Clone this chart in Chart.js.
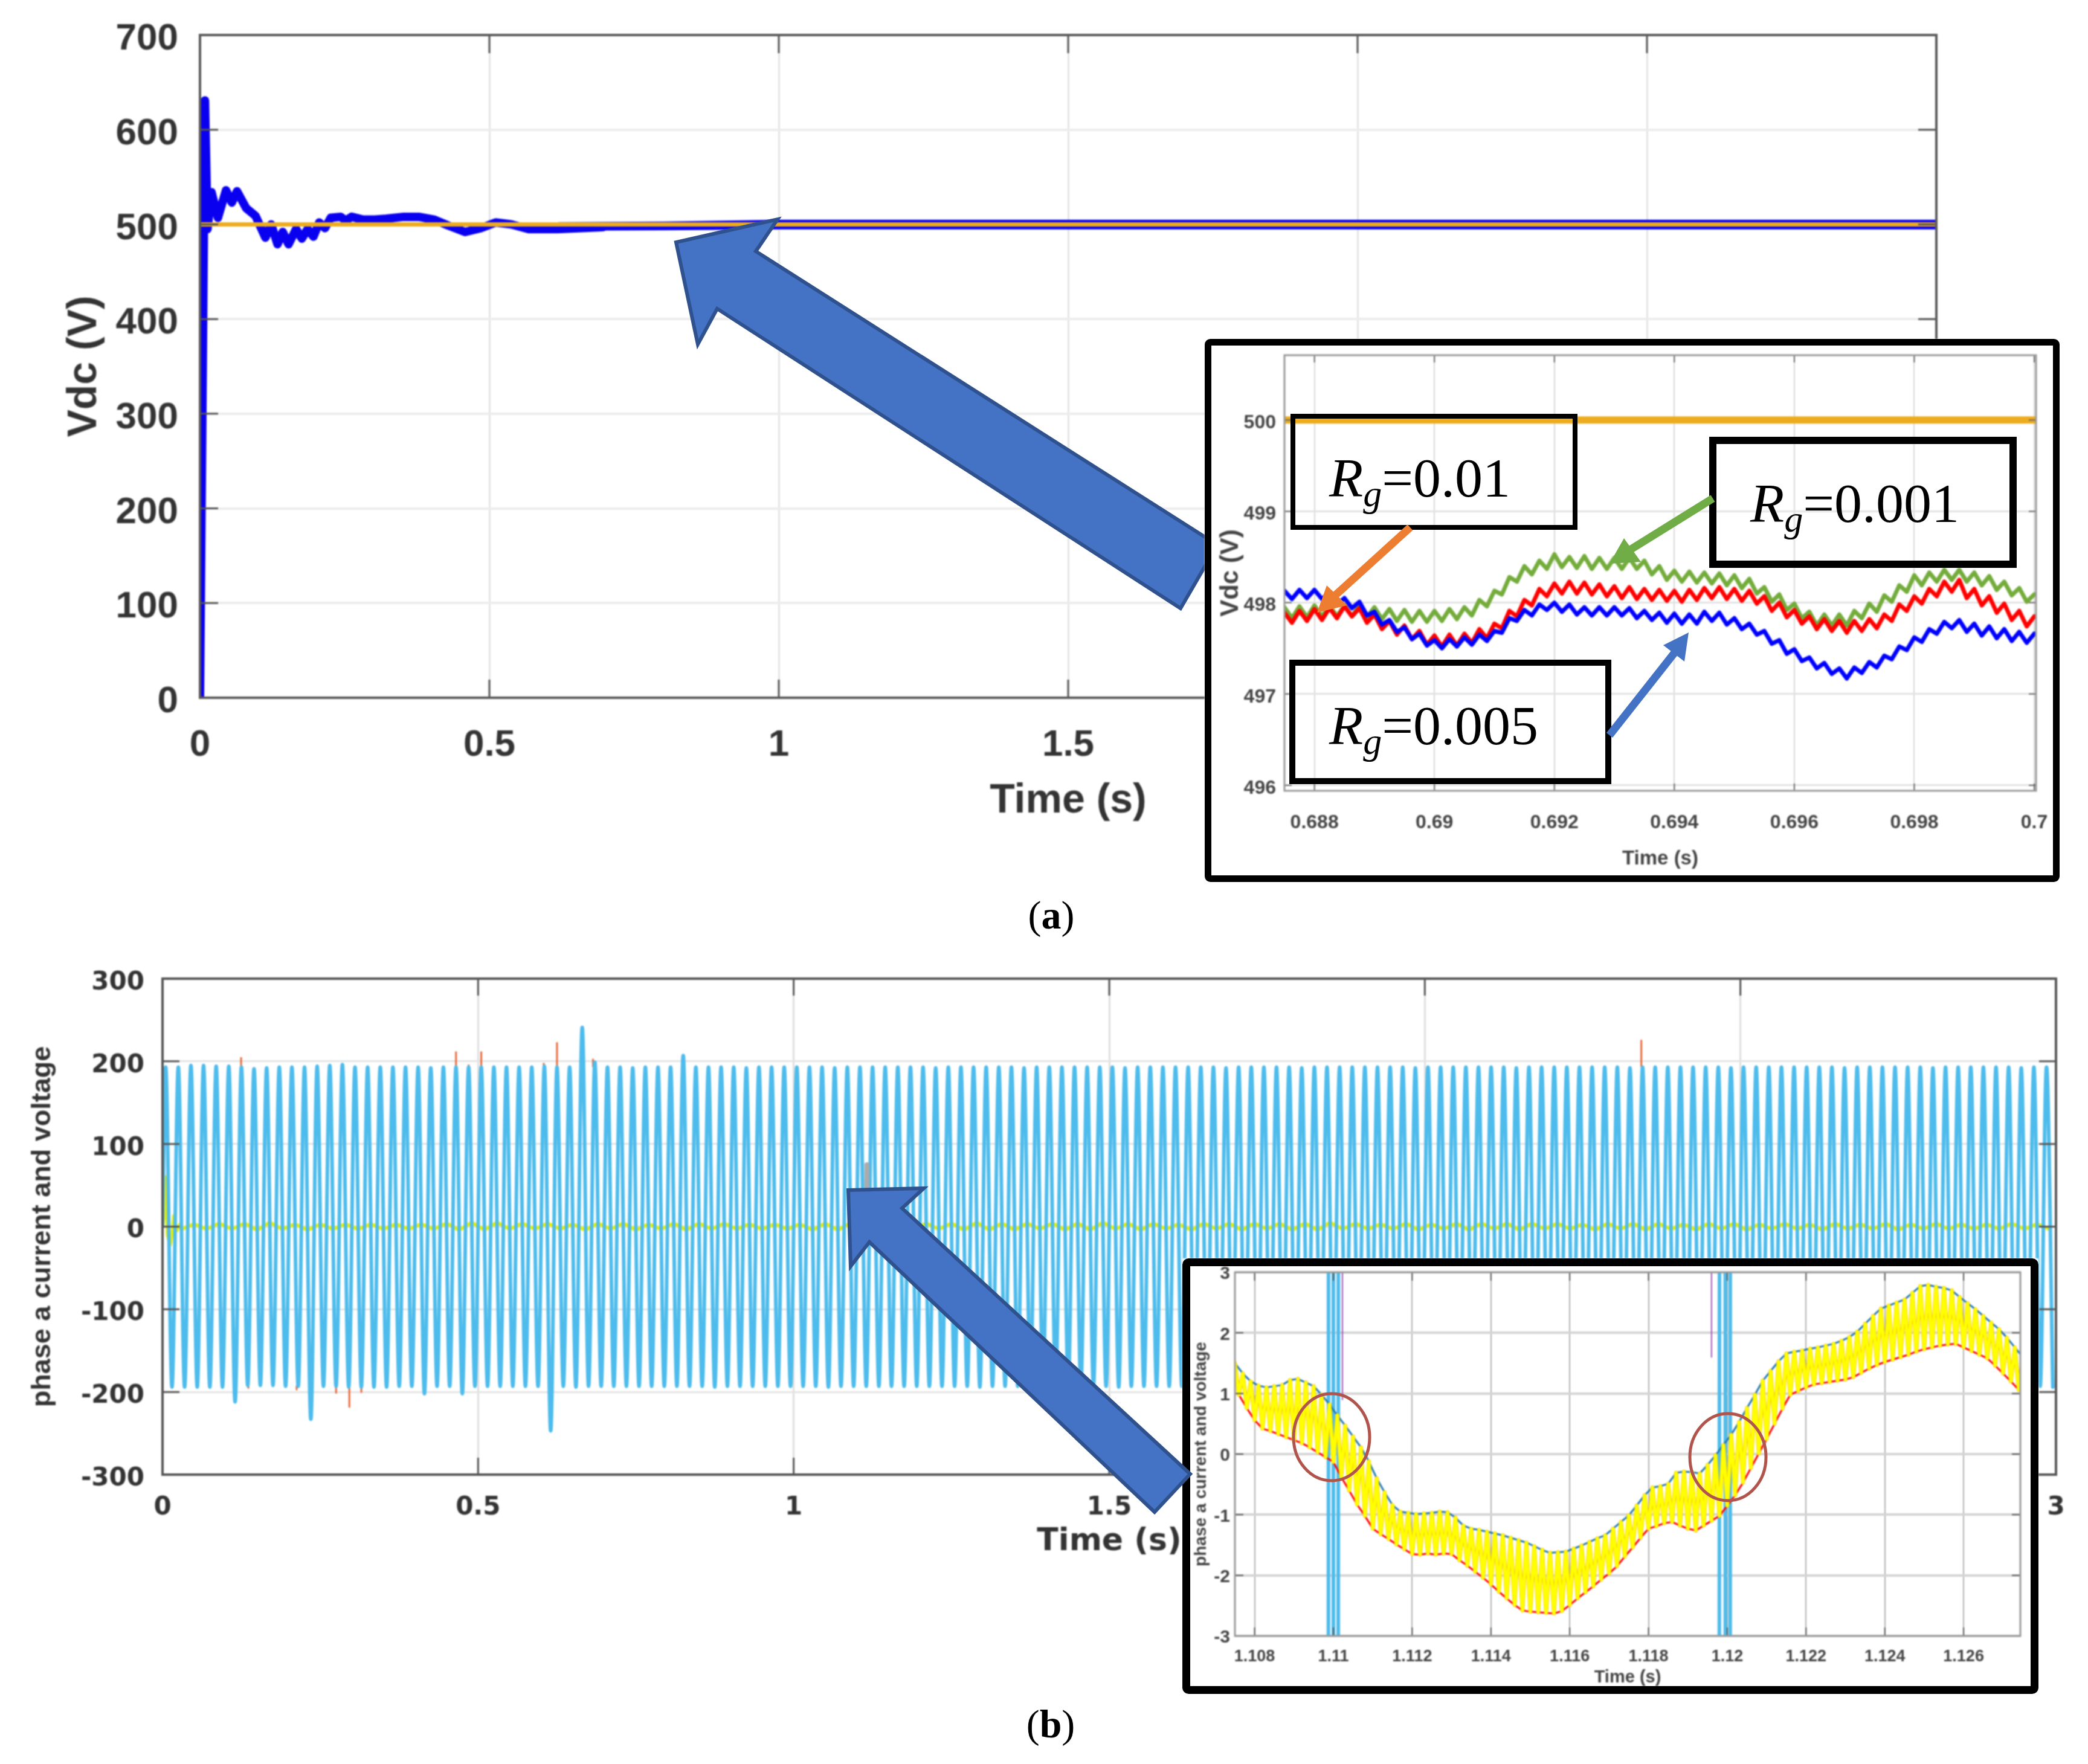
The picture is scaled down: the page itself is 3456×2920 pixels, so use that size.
<!DOCTYPE html>
<html>
<head>
<meta charset="utf-8">
<title>Vdc and phase a current and voltage</title>
<script src="https://cdn.jsdelivr.net/npm/chart.js@4"></script>
<style>
    html, body { margin: 0; padding: 0; background: #fff; }
    #page { position: relative; width: 3456px; height: 2920px; overflow: hidden; background: #fff; }
    canvas { position: absolute; display: block; filter: blur(1px); }
    canvas.inset { background: #fff; filter: blur(1.2px); }
    svg { position: absolute; left: 0; top: 0; }
    .rg { font-family: "Liberation Serif", serif; font-size: 92px; fill: #000; }
    .cap { font-family: "Liberation Serif", serif; font-size: 66px; fill: #000; }
</style>
</head>
<body>
<div id="page">
    <canvas id="chartVdc"></canvas>
    <canvas id="chartPhase"></canvas>
    <svg id="underInsets" width="3456" height="2920">
        <polygon points="1287,363 1251,416 2015,902 1954,1007 1187,511 1155,570 1119,401" fill="#4472C4" stroke="#2F528F" stroke-width="6"/>
    </svg>
    <canvas id="chartVdcZoom" class="inset"></canvas>
    <canvas id="chartPhaseZoom" class="inset"></canvas>
    <svg id="overInsets" width="3456" height="2920">
        <rect x="1999.5" y="566.5" width="1404" height="888" rx="4" fill="none" stroke="#000" stroke-width="11"/>
        <rect x="1963.5" y="2089.5" width="1404" height="708" rx="4" fill="none" stroke="#000" stroke-width="13"/>

        <rect x="2140" y="689" width="467" height="184" fill="none" stroke="#000" stroke-width="8"/>
        <rect x="2835" y="729" width="497" height="205" fill="none" stroke="#000" stroke-width="12"/>
        <rect x="2139" y="1097" width="523" height="196" fill="none" stroke="#000" stroke-width="10"/>

        <text class="rg" x="2200" y="822"><tspan font-style="italic">R</tspan><tspan font-style="italic" font-size="62" dy="16">g</tspan><tspan dy="-16">=0.01</tspan></text>
        <text class="rg" x="2897" y="864"><tspan font-style="italic">R</tspan><tspan font-style="italic" font-size="62" dy="16">g</tspan><tspan dy="-16">=0.001</tspan></text>
        <text class="rg" x="2200" y="1232"><tspan font-style="italic">R</tspan><tspan font-style="italic" font-size="62" dy="16">g</tspan><tspan dy="-16">=0.005</tspan></text>

        <line x1="2334" y1="873" x2="2205" y2="990" stroke="#ED7D31" stroke-width="13"/>
        <polygon points="2180,1014 2196,969 2230,1002" fill="#ED7D31"/>
        <line x1="2835" y1="825" x2="2695" y2="912" stroke="#70AD47" stroke-width="13"/>
        <polygon points="2664,933 2688,891 2716,930" fill="#70AD47"/>
        <line x1="2664" y1="1217" x2="2772" y2="1080" stroke="#4472C4" stroke-width="13"/>
        <polygon points="2795,1047 2753,1068 2788,1095" fill="#4472C4"/>

        <ellipse cx="2204" cy="2379" rx="63" ry="72" fill="none" stroke="#B0544C" stroke-width="5"/>
        <ellipse cx="2860" cy="2412" rx="63" ry="72" fill="none" stroke="#B0544C" stroke-width="5"/>

        <polygon points="1404,1970 1529,1967 1493,2000 1970,2440 1911,2503 1439,2056 1408,2096" fill="#4472C4" stroke="#2F528F" stroke-width="6"/>

        <text class="cap" x="1740" y="1537" text-anchor="middle">(<tspan font-weight="bold">a</tspan>)</text>
        <text class="cap" x="1739" y="2876" text-anchor="middle">(<tspan font-weight="bold">b</tspan>)</text>
    </svg>
</div>
<script>
    // (a) full Vdc run
    const vdcYTicks = [0, 100, 200, 300, 400, 500, 600, 700];
    const vdcXTicks = [0, 0.5, 1, 1.5, 2, 2.5, 3];
    const vdcTimes = [0, 0.0086, 0.013, 0.02, 0.031, 0.045, 0.055, 0.064, 0.08, 0.096, 0.113, 0.123, 0.134, 0.143, 0.153, 0.166, 0.176, 0.186, 0.196, 0.206, 0.216, 0.226, 0.243, 0.252, 0.262, 0.282, 0.302, 0.322, 0.352, 0.378, 0.405, 0.428, 0.458, 0.485, 0.511, 0.538, 0.568, 0.618, 0.696];
    const vdcValues = [0, 631, 495, 534, 507, 536, 523, 535, 517, 509, 486, 500, 479, 492, 479, 495, 485, 495, 487, 502, 496, 507, 508, 504, 508, 505, 505, 506, 508, 508, 505, 499, 492, 496, 502, 500, 495, 495, 497];
    const bandTimes = [0.62, 0.8, 1, 1.5, 2, 2.5, 3];
    const bandUpper = [500.5, 501, 503, 503, 503, 503, 503];
    const bandLower = [495.5, 496, 497, 497, 497, 497, 497];
    const refTimes = [0, 3];
    const refValues = [500, 500];

    // (a) inset, Rg series on one 0.125 ms grid
    const zoomAYTicks = [496, 497, 498, 499, 500];
    const zoomAXTicks = [0.688, 0.69, 0.692, 0.694, 0.696, 0.698, 0.7];
    const zoomAStart = 0.6875;
    const zoomAStep = 0.000125;
    const rg005 = [498.13, 498.04, 498.14, 498.05, 498.14, 498.04, 498.10, 497.98, 498.05, 497.94, 498.01, 497.86, 497.90, 497.76, 497.81, 497.68, 497.73, 497.60, 497.66, 497.53, 497.59, 497.50, 497.60, 497.52, 497.62, 497.54, 497.65, 497.58, 497.69, 497.67, 497.83, 497.80, 497.92, 497.86, 497.98, 497.92, 498.00, 497.90, 497.98, 497.87, 497.95, 497.86, 497.95, 497.86, 497.95, 497.86, 497.94, 497.83, 497.91, 497.81, 497.89, 497.78, 497.88, 497.77, 497.87, 497.77, 497.90, 497.80, 497.89, 497.76, 497.83, 497.71, 497.77, 497.65, 497.69, 497.55, 497.59, 497.44, 497.49, 497.36, 497.40, 497.28, 497.34, 497.22, 497.28, 497.17, 497.29, 497.23, 497.35, 497.29, 497.42, 497.38, 497.52, 497.48, 497.62, 497.57, 497.71, 497.66, 497.79, 497.72, 497.81, 497.68, 497.77, 497.64, 497.74, 497.61, 497.71, 497.58, 497.68, 497.56, 497.66];
    const rg01 = [497.89, 497.78, 497.91, 497.80, 497.93, 497.81, 497.94, 497.83, 497.96, 497.85, 497.94, 497.78, 497.87, 497.71, 497.80, 497.65, 497.75, 497.60, 497.69, 497.54, 497.64, 497.52, 497.65, 497.53, 497.66, 497.56, 497.71, 497.61, 497.77, 497.72, 497.91, 497.85, 498.03, 497.97, 498.15, 498.07, 498.21, 498.10, 498.23, 498.10, 498.22, 498.09, 498.20, 498.07, 498.18, 498.05, 498.17, 498.04, 498.15, 498.03, 498.14, 498.02, 498.13, 498.01, 498.14, 498.03, 498.16, 498.05, 498.17, 498.04, 498.15, 498.02, 498.13, 497.99, 498.07, 497.91, 498.00, 497.84, 497.92, 497.77, 497.85, 497.71, 497.82, 497.69, 497.80, 497.67, 497.80, 497.69, 497.82, 497.72, 497.87, 497.80, 497.98, 497.91, 498.07, 497.99, 498.15, 498.07, 498.23, 498.12, 498.25, 498.05, 498.15, 497.97, 498.07, 497.89, 497.99, 497.81, 497.91, 497.74, 497.85];
    const rg001 = [497.95, 497.83, 497.96, 497.84, 497.97, 497.85, 497.97, 497.85, 497.97, 497.85, 497.97, 497.84, 497.95, 497.82, 497.93, 497.80, 497.92, 497.79, 497.91, 497.79, 497.91, 497.80, 497.93, 497.82, 497.95, 497.86, 498.03, 497.96, 498.13, 498.09, 498.28, 498.23, 498.40, 498.31, 498.46, 498.37, 498.53, 498.39, 498.50, 498.38, 498.51, 498.37, 498.49, 498.37, 498.49, 498.37, 498.49, 498.37, 498.46, 498.31, 498.40, 498.25, 498.35, 498.23, 498.34, 498.22, 498.33, 498.21, 498.32, 498.19, 498.30, 498.16, 498.26, 498.10, 498.17, 498.01, 498.09, 497.92, 497.99, 497.83, 497.90, 497.75, 497.87, 497.75, 497.87, 497.75, 497.91, 497.83, 497.99, 497.90, 498.08, 498.01, 498.19, 498.12, 498.30, 498.19, 498.33, 498.23, 498.36, 498.25, 498.36, 498.23, 498.33, 498.19, 498.29, 498.14, 498.23, 498.08, 498.16, 498.01, 498.09];

    // (b) full phase voltage, one peak and one trough per 50 Hz cycle
    const phaseYTicks = [-300, -200, -100, 0, 100, 200, 300];
    const phaseXTicks = [0, 0.5, 1, 1.5, 2, 2.5, 3];
    const phasePeaks = [193, 193, 195, 195, 194, 194, 193, 191, 192, 193, 193, 193, 194, 195, 196, 193, 193, 193, 193, 193, 193, 192, 193, 193, 193, 193, 193, 193, 193, 193, 194, 193, 193, 241, 199, 193, 193, 192, 193, 193, 193, 207, 193, 193, 193, 193, 192, 193, 193, 193, 193, 193, 193, 192, 193, 193, 193, 193, 193, 193, 193, 192, 193, 193, 193, 193, 193, 193, 192, 193, 193, 193, 193, 193, 193, 193, 192, 193, 193, 193, 193, 193, 193, 193, 192, 193, 193, 193, 193, 193, 192, 193, 193, 193, 193, 193, 193, 193, 193, 192, 193, 193, 193, 193, 193, 193, 193, 192, 193, 193, 193, 193, 193, 193, 193, 193, 192, 193, 193, 193, 193, 193, 193, 193, 192, 193, 193, 193, 193, 193, 193, 193, 193, 192, 193, 193, 193, 193, 193, 193, 192, 193, 193, 193, 193, 193, 193, 192, 193, 193];
    const phaseTroughs = [-194, -194, -194, -194, -194, -212, -192, -192, -192, -193, -193, -233, -193, -193, -194, -194, -194, -194, -193, -193, -202, -193, -193, -202, -193, -193, -193, -193, -193, -193, -247, -193, -194, -193, -193, -193, -193, -193, -193, -193, -193, -193, -193, -194, -193, -193, -193, -193, -193, -193, -193, -193, -194, -193, -193, -193, -193, -193, -193, -193, -193, -193, -193, -193, -194, -193, -193, -193, -193, -193, -193, -193, -193, -193, -193, -194, -193, -193, -193, -193, -193, -193, -193, -193, -193, -193, -193, -194, -193, -193, -193, -193, -193, -193, -193, -193, -193, -193, -193, -193, -193, -194, -193, -193, -193, -193, -193, -193, -193, -193, -193, -193, -194, -193, -193, -193, -193, -193, -193, -193, -193, -193, -193, -193, -194, -193, -193, -193, -193, -193, -193, -193, -193, -193, -193, -193, -194, -193, -193, -193, -193, -193, -193, -193, -193, -193, -193, -193, -193, -194];
    const spikeTimes = [0.1245, 0.465, 0.485, 0.505, 0.604, 0.625, 0.682, 2.343, 0.136, 0.2125, 0.275, 0.296, 0.315];
    const spikeValues = [205, 212, 196, 212, 198, 223, 203, 226, -195, -197, -201, -218, -200];
    const grayTimes = [1.116, 1.116];
    const grayValues = [40, 75];
    const currentStartTimes = [0, 0.003, 0.005, 0.008, 0.012, 0.016, 0.018, 0.022, 0.028];
    const currentStartValues = [0, 20, 60, -10, -22, -5, 13, -5, 3];
    const currentValues = [-3, 3, -3, 4, -3, 4, -4, 5, -3, 3, -4, 3, -3, 3, -3, 3, -3, 3, -3, 3, -3, 4, -4, 5, -4, 5, -3, 4, -3, 4, -3, 3, -4, 4, -3, 4, -4, 3, -3, 4, -4, 4, -3, 4, -3, 3, -3, 3, -3, 3, -4, 4, -4, 4, -4, 5, -4, 4, -4, 4, -3, 4, -4, 5, -4, 4, -4, 4, -3, 4, -4, 4, -4, 5, -3, 4, -4, 4, -3, 3, -4, 4, -3, 4, -4, 4, -3, 4, -4, 4, -4, 5, -3, 4, -3, 3, -3, 4, -4, 3, -3, 4, -4, 4, -3, 4, -4, 4, -3, 4, -3, 3, -4, 4, -3, 4, -4, 4, -3, 3, -4, 4, -3, 4, -4, 3, -3, 4, -3, 3, -4, 4, -3, 3, -3, 4, -4, 3, -3, 4, -3, 3, -3, 3, -3, 4, -3, 3, -3];

    // (b) inset, envelopes on one 0.2 ms grid
    const zoomBYTicks = [-3, -2, -1, 0, 1, 2, 3];
    const zoomBXTicks = [1.108, 1.11, 1.112, 1.114, 1.116, 1.118, 1.12, 1.122, 1.124, 1.126];
    const zoomBStart = 1.1075;
    const zoomBStep = 0.0002;
    const currentUpper = [1.50, 1.33, 1.20, 1.13, 1.10, 1.12, 1.14, 1.22, 1.24, 1.18, 1.12, 0.98, 0.82, 0.64, 0.47, 0.29, 0.11, -0.12, -0.40, -0.63, -0.84, -0.95, -0.97, -0.99, -0.98, -0.97, -0.95, -0.96, -1.05, -1.18, -1.23, -1.25, -1.28, -1.31, -1.34, -1.38, -1.42, -1.46, -1.52, -1.58, -1.63, -1.62, -1.61, -1.56, -1.51, -1.45, -1.39, -1.34, -1.23, -1.12, -1.01, -0.85, -0.68, -0.55, -0.53, -0.49, -0.31, -0.29, -0.30, -0.32, -0.18, -0.02, 0.15, 0.32, 0.53, 0.76, 0.98, 1.21, 1.37, 1.53, 1.66, 1.69, 1.71, 1.74, 1.76, 1.79, 1.82, 1.87, 1.93, 2.02, 2.15, 2.28, 2.40, 2.45, 2.50, 2.55, 2.66, 2.77, 2.79, 2.76, 2.74, 2.70, 2.59, 2.49, 2.39, 2.28, 2.17, 2.06, 1.92, 1.76, 1.60];
    const currentLower = [0.98, 0.76, 0.56, 0.42, 0.38, 0.33, 0.28, 0.23, 0.18, 0.11, 0.03, -0.05, -0.13, -0.38, -0.60, -0.83, -1.02, -1.23, -1.32, -1.40, -1.49, -1.57, -1.65, -1.66, -1.64, -1.66, -1.64, -1.65, -1.75, -1.84, -1.94, -2.04, -2.15, -2.27, -2.38, -2.49, -2.58, -2.60, -2.61, -2.62, -2.63, -2.59, -2.49, -2.38, -2.28, -2.18, -2.07, -1.97, -1.85, -1.69, -1.54, -1.38, -1.23, -1.19, -1.14, -1.12, -1.18, -1.23, -1.26, -1.18, -1.10, -1.02, -0.85, -0.68, -0.47, -0.23, 0.01, 0.25, 0.50, 0.75, 0.98, 1.04, 1.10, 1.15, 1.17, 1.19, 1.21, 1.23, 1.27, 1.34, 1.41, 1.47, 1.52, 1.56, 1.60, 1.64, 1.69, 1.73, 1.76, 1.79, 1.81, 1.82, 1.76, 1.70, 1.64, 1.58, 1.46, 1.33, 1.20, 1.06, 0.97];
    const voltageCrossATimes = [1.1098, 1.10995, 1.11005, 1.1102];
    const voltageCrossBTimes = [1.1197, 1.1199, 1.12, 1.12015];
    const voltageCrossValues = [-200, 200, -200, 200];
    const purpleTimes = [1.11023, 1.11023, 1.1196, 1.1196];
    const purpleValues = [3, 0.9, 3, 1.6];

    const colors = {
        vdcBlue: '#0A00F0',
        ref: '#EDAC1F',
        cyan: '#4DBBEB',
        current: '#EEF000',
        spike: '#E8693A',
        gray: '#ABABAB',
        red: '#FF0000',
        green: '#74AC3C',
        pure: '#0000FF',
        envBlue: '#1F78B4',
        yellow: '#FFFF00',
        envOrange: '#F5B000',
        purple: '#9A4FB5',
    };

    function zip(times, values) {
        return times.map(function (t, i) { return { x: t, y: values[i] }; });
    }

    function onGrid(start, step, values) {
        return values.map(function (v, i) { return { x: start + i * step, y: v }; });
    }

    function line(label, data, color, width, extra) {
        return Object.assign({
            label,
            data,
            borderColor: color,
            backgroundColor: color,
            borderWidth: width,
            pointRadius: 0,
            tension: 0,
            borderJoinStyle: 'round',
            borderCapStyle: 'round',
        }, extra || {});
    }

    // boxed MATLAB style frame with inward ticks on all four sides
    const matlabFrame = {
        id: 'matlabFrame',
        afterDatasetsDraw(chart, args, opts) {
            const { ctx, chartArea: a, scales } = chart;
            ctx.save();
            ctx.strokeStyle = opts.tickColor;
            ctx.lineWidth = opts.tickWidth;
            ctx.beginPath();
            scales.x.ticks.forEach(function (t) {
                const px = scales.x.getPixelForValue(t.value);
                ctx.moveTo(px, a.top);
                ctx.lineTo(px, a.top + opts.tickLength);
                ctx.moveTo(px, a.bottom);
                ctx.lineTo(px, a.bottom - opts.tickLength);
            });
            scales.y.ticks.forEach(function (t) {
                const py = scales.y.getPixelForValue(t.value);
                ctx.moveTo(a.left, py);
                ctx.lineTo(a.left + opts.tickLength, py);
                ctx.moveTo(a.right, py);
                ctx.lineTo(a.right - opts.tickLength, py);
            });
            ctx.stroke();
            ctx.strokeStyle = opts.color;
            ctx.lineWidth = opts.width;
            ctx.strokeRect(a.left, a.top, a.right - a.left, a.bottom - a.top);
            ctx.restore();
        },
    };

    function buildChart(cfg) {
        const el = document.getElementById(cfg.id);
        const box = cfg.box;
        const plot = cfg.plot;
        el.width = box.right - box.left;
        el.height = box.bottom - box.top;
        el.style.left = box.left + 'px';
        el.style.top = box.top + 'px';
        const label = function (v) { return String(v); };

        return new Chart(el, {
            type: 'line',
            data: { datasets: cfg.datasets },
            plugins: [matlabFrame],
            options: {
                responsive: false,
                animation: false,
                devicePixelRatio: 1,
                parsing: { xAxisKey: 'x', yAxisKey: 'y' },
                layout: { padding: { top: plot.top - box.top, right: box.right - plot.right, left: 0, bottom: 0 } },
                plugins: {
                    legend: { display: false },
                    tooltip: { enabled: false },
                    matlabFrame: cfg.frame,
                },
                scales: {
                    x: {
                        type: 'linear',
                        min: cfg.xRange[0],
                        max: cfg.xRange[1],
                        afterFit: function (s) {
                            s.height = box.bottom - plot.bottom;
                            s.paddingLeft = 0;
                            s.paddingRight = 0;
                        },
                        afterBuildTicks: function (s) { s.ticks = cfg.xTicks.map(function (v) { return { value: v }; }); },
                        grid: { color: cfg.grid.xColor, lineWidth: cfg.grid.xWidth, drawTicks: false },
                        border: { display: false },
                        ticks: {
                            autoSkip: false, maxRotation: 0, minRotation: 0,
                            padding: cfg.tickFont.xPad, color: cfg.tickFont.color,
                            font: cfg.tickFont.x, callback: label,
                        },
                        title: {
                            display: true, text: cfg.xTitle.text, color: cfg.xTitle.color,
                            font: cfg.xTitle.font, padding: { top: 0, bottom: cfg.xTitle.pad },
                        },
                    },
                    y: {
                        type: 'linear',
                        min: cfg.yRange[0],
                        max: cfg.yRange[1],
                        afterFit: function (s) {
                            s.width = plot.left - box.left;
                            s.paddingTop = 0;
                            s.paddingBottom = 0;
                        },
                        afterBuildTicks: function (s) { s.ticks = cfg.yTicks.map(function (v) { return { value: v }; }); },
                        grid: { color: cfg.grid.yColor, lineWidth: cfg.grid.yWidth, drawTicks: false },
                        border: { display: false },
                        ticks: {
                            autoSkip: false,
                            padding: cfg.tickFont.yPad, color: cfg.tickFont.color,
                            labelOffset: cfg.tickFont.yOffset || 0,
                            font: cfg.tickFont.y, callback: label,
                        },
                        title: {
                            display: true, text: cfg.yTitle.text, color: cfg.yTitle.color,
                            font: cfg.yTitle.font, padding: { top: cfg.yTitle.pad, bottom: 0 },
                        },
                    },
                },
            },
        });
    }

    const sans = '"Liberation Sans", Arial, sans-serif';
    const wide = '"DejaVu Sans", sans-serif';

    // phase voltage alternates peak and trough every 10 ms, starting at 5 ms
    const phasePoints = [{ x: 0, y: 0 }];
    phasePeaks.forEach(function (peak, i) {
        phasePoints.push({ x: 0.005 + i * 0.02, y: peak });
        phasePoints.push({ x: 0.015 + i * 0.02, y: phaseTroughs[i] });
    });

    // spikes rise out of the envelope, so each gets its own short segment
    const spikePoints = [];
    spikeTimes.forEach(function (t, i) {
        spikePoints.push({ x: t, y: spikeValues[i] > 0 ? 193 : -193 });
        spikePoints.push({ x: t, y: spikeValues[i] });
        spikePoints.push({ x: t, y: null });
    });

    const currentPoints = zip(currentStartTimes, currentStartValues).concat(onGrid(0.03, 0.02, currentValues));

    // inset current ripple runs back and forth between the two envelopes
    const ripplePoints = [];
    currentUpper.forEach(function (hi, i) {
        const t = zoomBStart + i * zoomBStep;
        ripplePoints.push({ x: t, y: hi });
        ripplePoints.push({ x: t + zoomBStep / 2, y: currentLower[i] });
    });

    const purplePoints = [
        { x: purpleTimes[0], y: purpleValues[0] },
        { x: purpleTimes[1], y: purpleValues[1] },
        { x: purpleTimes[1], y: null },
        { x: purpleTimes[2], y: purpleValues[2] },
        { x: purpleTimes[3], y: purpleValues[3] },
    ];

    buildChart({
        id: 'chartVdc',
        box: { left: 0, top: 0, right: 3456, bottom: 1400 },
        plot: { left: 331, top: 58, right: 3205, bottom: 1155 },
        xRange: [0, 3], yRange: [0, 700],
        xTicks: vdcXTicks, yTicks: vdcYTicks,
        grid: { xColor: '#e4e4e4', xWidth: 3, yColor: '#ececec', yWidth: 4 },
        frame: { color: '#5a5a5a', width: 4, tickColor: '#555', tickWidth: 3, tickLength: 30 },
        tickFont: { color: '#333', x: { family: sans, size: 62, weight: 'bold' }, y: { family: sans, size: 62, weight: 'bold' }, xPad: 42, yPad: 36, yOffset: 7 },
        xTitle: { text: 'Time (s)', color: '#333', font: { family: sans, size: 68, weight: 'bold' }, pad: 33 },
        yTitle: { text: 'Vdc (V)', color: '#333', font: { family: sans, size: 68, weight: 'bold' }, pad: 99 },
        datasets: [
            line('Vdc', zip(vdcTimes, vdcValues), colors.vdcBlue, 14, { order: 3 }),
            line('Vdc upper', zip(bandTimes, bandUpper), colors.vdcBlue, 6, { order: 2 }),
            line('Vdc lower', zip(bandTimes, bandLower), colors.vdcBlue, 7, { order: 2 }),
            line('Reference', zip(refTimes, refValues), colors.ref, 7, { order: 1 }),
        ],
    });

    buildChart({
        id: 'chartPhase',
        box: { left: 0, top: 1560, right: 3456, bottom: 2620 },
        plot: { left: 269, top: 1620, right: 3403, bottom: 2441 },
        xRange: [0, 3], yRange: [-300, 300],
        xTicks: phaseXTicks, yTicks: phaseYTicks,
        grid: { xColor: '#dedede', xWidth: 3, yColor: '#e4e4e4', yWidth: 3 },
        frame: { color: '#555', width: 4, tickColor: '#555', tickWidth: 3, tickLength: 28 },
        tickFont: { color: '#333', x: { family: wide, size: 42, weight: 'bold' }, y: { family: wide, size: 42, weight: 'bold' }, xPad: 30, yPad: 30, yOffset: 7 },
        xTitle: { text: 'Time (s)', color: '#333', font: { family: wide, size: 52, weight: 'bold' }, pad: 36 },
        yTitle: { text: 'phase a current and voltage', color: '#333', font: { family: sans, size: 45, weight: 'bold' }, pad: 44 },
        datasets: [
            line('Phase a voltage', phasePoints, colors.cyan, 6, { order: 2, cubicInterpolationMode: 'monotone' }),
            line('Spikes', spikePoints, colors.spike, 3, { order: 3, spanGaps: false, borderCapStyle: 'butt' }),
            line('Spike gray', zip(grayTimes, grayValues), colors.gray, 8, { order: 1 }),
            line('Phase a current', currentPoints, colors.current, 6, { order: 3 }),
        ],
    });

    buildChart({
        id: 'chartVdcZoom',
        box: { left: 1994, top: 561, right: 3409, bottom: 1460 },
        plot: { left: 2126, top: 588, right: 3370, bottom: 1309 },
        xRange: [zoomAStart, 0.70003], yRange: [495.94, 500.71],
        xTicks: zoomAXTicks, yTicks: zoomAYTicks,
        grid: { xColor: '#d8d8d8', xWidth: 2, yColor: '#e2e2e2', yWidth: 3 },
        frame: { color: '#999', width: 3, tickColor: '#666', tickWidth: 2, tickLength: 12 },
        tickFont: { color: '#444', x: { family: sans, size: 32, weight: 'bold' }, y: { family: sans, size: 32, weight: 'bold' }, xPad: 34, yPad: 14, yOffset: 5 },
        xTitle: { text: 'Time (s)', color: '#444', font: { family: sans, size: 33, weight: 'bold' }, pad: 18 },
        yTitle: { text: 'Vdc (V)', color: '#444', font: { family: sans, size: 42, weight: 'bold' }, pad: 18 },
        datasets: [
            line('Reference', zip(refTimes, refValues), colors.ref, 12, { order: 4, borderCapStyle: 'butt' }),
            line('Rg=0.001', onGrid(zoomAStart, zoomAStep, rg001), colors.green, 7, { order: 3 }),
            line('Rg=0.01', onGrid(zoomAStart, zoomAStep, rg01), colors.red, 7, { order: 2 }),
            line('Rg=0.005', onGrid(zoomAStart, zoomAStep, rg005), colors.pure, 7, { order: 1 }),
        ],
    });

    buildChart({
        id: 'chartPhaseZoom',
        box: { left: 1957, top: 2083, right: 3374, bottom: 2804 },
        plot: { left: 2044, top: 2106, right: 3344, bottom: 2708 },
        xRange: [zoomBStart, 1.12744], yRange: [-3, 3],
        xTicks: zoomBXTicks, yTicks: zoomBYTicks,
        grid: { xColor: '#b0b0b0', xWidth: 2, yColor: '#d4d4d4', yWidth: 4 },
        frame: { color: '#999', width: 3, tickColor: '#555', tickWidth: 2, tickLength: 14 },
        tickFont: { color: '#444', x: { family: sans, size: 27, weight: 'bold' }, y: { family: sans, size: 30, weight: 'bold' }, xPad: 18, yPad: 8, yOffset: 3 },
        xTitle: { text: 'Time (s)', color: '#444', font: { family: sans, size: 29, weight: 'bold' }, pad: 10 },
        yTitle: { text: 'phase a current and voltage', color: '#444', font: { family: sans, size: 28, weight: 'bold' }, pad: 14 },
        datasets: [
            line('Phase a voltage', zip(voltageCrossATimes, voltageCrossValues), colors.cyan, 6, { order: 6 }),
            line('Phase a voltage 2', zip(voltageCrossBTimes, voltageCrossValues), colors.cyan, 6, { order: 6 }),
            line('Voltage trace', purplePoints, colors.purple, 2, { order: 5, spanGaps: false }),
            line('Current upper', onGrid(zoomBStart, zoomBStep, currentUpper), colors.envBlue, 3, { order: 4 }),
            line('Current lower', onGrid(zoomBStart + zoomBStep / 2, zoomBStep, currentLower), colors.red, 3, { order: 3 }),
            line('Current ripple orange', ripplePoints, colors.envOrange, 6.5, { order: 2 }),
            line('Current ripple', ripplePoints, colors.yellow, 5.5, { order: 1 }),
        ],
    });
</script>
</body>
</html>
